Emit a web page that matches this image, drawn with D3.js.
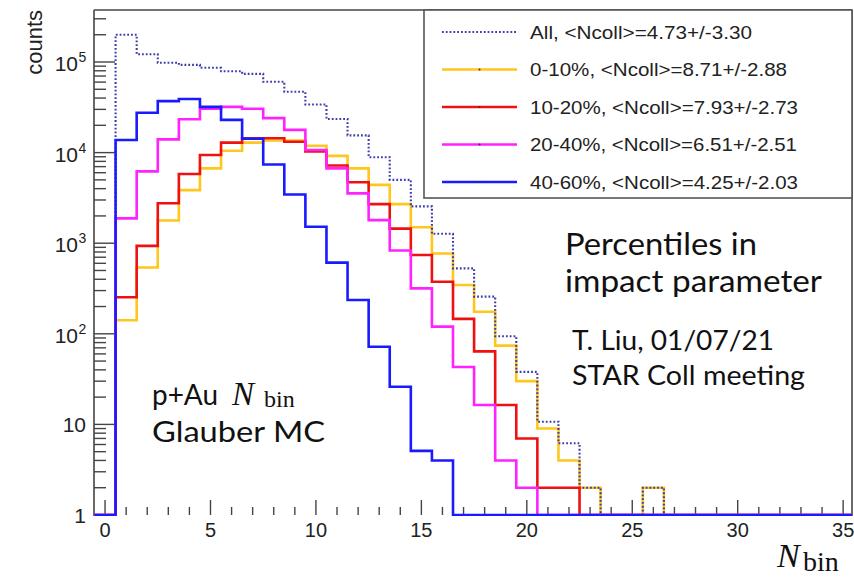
<!DOCTYPE html>
<html lang="en">
<head>
<meta charset="UTF-8">
<script src="https://d3js.org/d3.v7.min.js"></script>
<title>p+Au Nbin Glauber MC</title>
<style>
  body { margin: 0; background: #fff; }
  svg { display: block; }
</style>
</head>
<body>
<div id="wrapper"></div>
<script>
// bin centres are integers, counts for bins 0,1,2,... (missing = 0)
const allCounts   = [0, 200000, 122000, 98000, 93000, 86500, 79000, 74000, 60500, 47000, 34000, 23500, 15500, 8900, 5000, 2550, 1270, 528, 257, 94, 38, 10.7, 6.2, 2, 0, 0, 2];
const cent0_10    = [0, 141, 540, 1780, 3850, 6700, 10500, 12900, 13600, 13600, 11900, 9200, 6700, 4400, 2700, 1500, 770, 346, 175, 74, 30, 9, 4, 2, 0, 0, 2];
const cent10_20   = [0, 253, 935, 2760, 5800, 9400, 12900, 14400, 14400, 13200, 10300, 7200, 4700, 2700, 1450, 740, 376, 146, 64, 16.4, 7, 2, 2];
const cent20_40   = [0, 1880, 6200, 14000, 23300, 30500, 32000, 30500, 24000, 17800, 10700, 6700, 3550, 1800, 830, 317, 120, 43, 16.4, 4, 2];
const cent40_60   = [0, 13800, 27500, 37000, 39000, 32000, 23000, 14200, 7400, 3450, 1520, 610, 236, 72, 26, 5.1, 4];

const legendLabels = [
  "All, <Ncoll>=4.73+/-3.30",
  "0-10%, <Ncoll>=8.71+/-2.88",
  "10-20%, <Ncoll>=7.93+/-2.73",
  "20-40%, <Ncoll>=6.51+/-2.51",
  "40-60%, <Ncoll>=4.25+/-2.03"
];
const legendWidths = [222, 257, 268, 267, 268];
const xTicks = [0, 5, 10, 15, 20, 25, 30, 35];
const yDecades = [0, 1, 2, 3, 4, 5];

const width = 854, height = 578;
const nBins = 36;
const axisFont = "'Liberation Sans', Arial, sans-serif";

const svg = d3.select("#wrapper").append("svg")
  .attr("width", width)
  .attr("height", height);

const xScale = d3.scaleLinear().domain([-0.5, 35.42]).range([94.5, 852]);
const yScale = d3.scaleLog().domain([1, Math.pow(10, 5.574)]).range([515, 10]);

const series = [
  { data: allCounts, color: "#3c3cac", dash: "1.8,2", width: 2.1 },
  { data: cent0_10, color: "#ffc61e", width: 2.6 },
  { data: cent10_20, color: "#ee1111", width: 2.6 },
  { data: cent20_40, color: "#ff22ff", width: 2.6 },
  { data: cent40_60, color: "#1a1aff", width: 2.6 }
];

svg.append("clipPath").attr("id", "plotclip")
  .append("rect").attr("x", 94).attr("y", 10).attr("width", 758).attr("height", 506);

function stepPoints(data) {
  const pts = [];
  for (let i = 0; i < nBins; i++) {
    const v = data[i] || 0;
    pts.push([i - 0.5, v], [i + 0.5, v]);
  }
  return pts;
}

const line = d3.line()
  .x(d => xScale(d[0]))
  .y(d => d[1] > 0 ? yScale(d[1]) : yScale(1));

// frame
const frame = svg.append("g");
frame.append("line").attr("x1", 94).attr("x2", 94).attr("y1", 10).attr("y2", 516)
  .attr("stroke", "#444").attr("stroke-width", 1.6);
frame.append("line").attr("x1", 94).attr("x2", 852).attr("y1", 10).attr("y2", 10)
  .attr("stroke", "#444").attr("stroke-width", 1.6);
frame.append("line").attr("x1", 852).attr("x2", 852).attr("y1", 10).attr("y2", 516)
  .attr("stroke", "#444").attr("stroke-width", 1.6);

// y ticks (log)
const yTickG = svg.append("g");
yDecades.forEach(d => {
  const base = Math.pow(10, d);
  for (let m = 1; m <= 9; m++) {
    const v = base * m;
    if (v > yScale.domain()[1]) break;
    const yy = yScale(v);
    yTickG.append("line")
      .attr("x1", 94).attr("x2", m === 1 ? 115 : 106)
      .attr("y1", yy).attr("y2", yy)
      .attr("stroke", "#444").attr("stroke-width", 1.4);
  }
  const yy = yScale(base);
  if (d < 2) {
    yTickG.append("text")
      .attr("x", 86).attr("y", yy + 8)
      .attr("text-anchor", "end")
      .style("font-family", axisFont)
      .style("font-size", "21px").attr("fill", "#222")
      .text(d === 0 ? "1" : "10");
  } else {
    yTickG.append("text")
      .attr("x", 78).attr("y", yy + 9)
      .attr("text-anchor", "end")
      .style("font-family", axisFont)
      .style("font-size", "21px").attr("fill", "#222")
      .text("10");
    yTickG.append("text")
      .attr("x", 78.5).attr("y", yy)
      .style("font-family", axisFont)
      .style("font-size", "14px").attr("fill", "#222")
      .text(d);
  }
});

// x axis ticks
const xTickG = svg.append("g");
for (let i = 0; i <= 35; i++) {
  const xx = xScale(i);
  const major = xTicks.includes(i);
  xTickG.append("line")
    .attr("x1", xx).attr("x2", xx)
    .attr("y1", 515).attr("y2", major ? 500 : 507)
    .attr("stroke", "#444").attr("stroke-width", 1.4);
}
xTicks.forEach(t => {
  xTickG.append("text")
    .attr("x", xScale(t)).attr("y", 537)
    .attr("text-anchor", "middle")
    .style("font-family", axisFont)
    .style("font-size", "20px").attr("fill", "#222")
    .text(t);
});

// histograms; draw order: yellow, All (dotted), red, magenta, blue
const drawOrder = [1, 0, 2, 3, 4];
const plot = svg.append("g").attr("clip-path", "url(#plotclip)");
drawOrder.forEach(k => {
  const s = series[k];
  plot.append("path")
    .attr("d", line(stepPoints(s.data)))
    .attr("fill", "none")
    .attr("stroke", s.color)
    .attr("stroke-width", s.width)
    .attr("stroke-dasharray", s.dash || null)
    .attr("stroke-linejoin", "miter");
});

// y axis title
svg.append("text")
  .attr("transform", "translate(42,10) rotate(-90)")
  .attr("text-anchor", "end")
  .style("font-family", axisFont)
  .style("font-size", "22px").attr("fill", "#222")
  .text("counts");

// x axis title N_bin
const xt = svg.append("g");
xt.append("text").attr("x", 777).attr("y", 567)
  .style("font-family", "'Liberation Serif', serif").style("font-style", "italic")
  .style("font-size", "34px").attr("fill", "#111").text("N");
xt.append("text").attr("x", 803).attr("y", 571)
  .style("font-family", "'Liberation Serif', serif")
  .style("font-size", "28px").attr("fill", "#111").text("bin");

// legend
const legend = svg.append("g");
legend.append("rect")
  .attr("x", 424).attr("y", 10).attr("width", 428).attr("height", 188)
  .attr("fill", "#fff").attr("stroke", "#555").attr("stroke-width", 1.6);
legendLabels.forEach((lab, i) => {
  const s = series[i];
  const ly = 32 + i * 37.5;
  legend.append("line")
    .attr("x1", 442).attr("x2", 517).attr("y1", ly).attr("y2", ly)
    .attr("stroke", s.color).attr("stroke-width", i === 0 ? 2 : 2.4)
    .attr("stroke-dasharray", s.dash || null);
  if (i > 0) {
    legend.append("circle").attr("cx", 479.5).attr("cy", ly).attr("r", 1)
      .attr("fill", "#333");
  }
  legend.append("text")
    .attr("x", 530).attr("y", ly + 6.5)
    .style("font-family", axisFont)
    .style("font-size", "18.5px").attr("fill", "#222")
    .attr("textLength", legendWidths[i]).attr("lengthAdjust", "spacingAndGlyphs")
    .text(lab);
});

// annotations
const sans = "Lato, 'Open Sans', sans-serif";
function note(txt, x, y, size, len) {
  svg.append("text").attr("x", x).attr("y", y)
    .style("font-family", sans).style("font-size", size + "px")
    .attr("fill", "#111")
    .attr("textLength", len).attr("lengthAdjust", "spacingAndGlyphs")
    .text(txt);
}
note("Percentiles in", 565, 255, 30, 192);
note("impact parameter", 565, 292, 30, 257);
note("T. Liu, 01/07/21", 572, 350, 27, 202);
note("STAR Coll meeting", 572, 385, 27, 233);
note("p+Au", 152, 405, 28, 66);
note("Glauber MC", 152, 442, 28, 173);

svg.append("text").attr("x", 232).attr("y", 405)
  .style("font-family", "'Liberation Serif', serif").style("font-style", "italic")
  .style("font-size", "33px").attr("fill", "#111").text("N");
svg.append("text").attr("x", 264).attr("y", 407)
  .style("font-family", "'Liberation Serif', serif")
  .style("font-size", "24px").attr("fill", "#111").text("bin");
</script>
</body>
</html>
